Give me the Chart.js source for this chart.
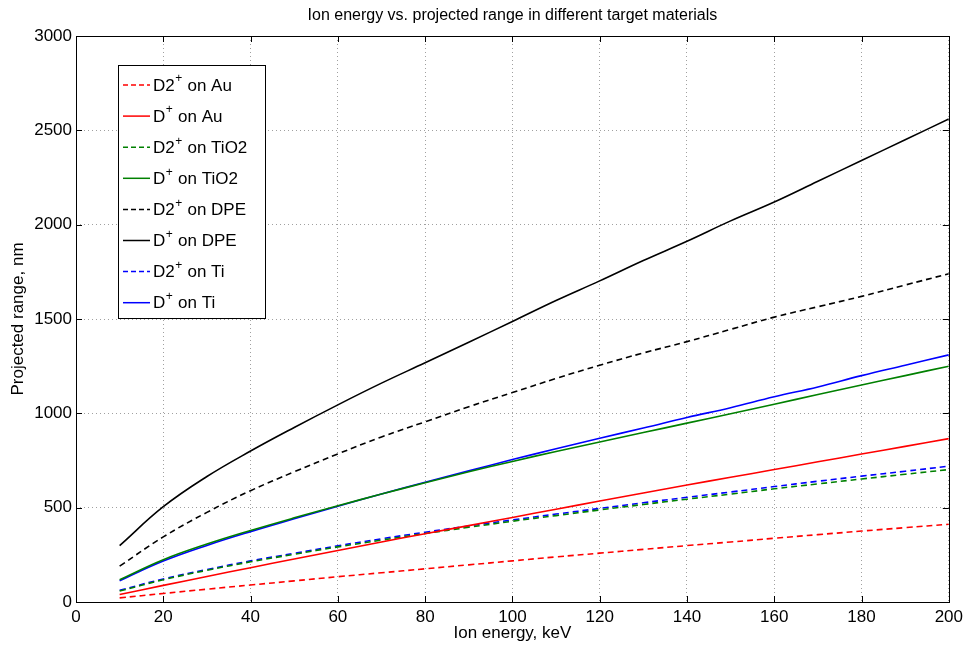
<!DOCTYPE html>
<html>
<head>
<meta charset="utf-8">
<script src="https://cdn.jsdelivr.net/npm/chart.js@4/dist/chart.umd.min.js"></script>
<style>
  html, body { margin: 0; padding: 0; background: #fff; }
  #wrap { width: 968px; height: 648px; }
</style>
</head>
<body>
<div id="wrap"><canvas id="rangeChart" width="968" height="648"></canvas></div>
<script>
// ion energies, keV
const energies = [10, 20, 30, 40, 50, 60, 70, 80, 90, 100, 110, 120, 130, 140, 150, 160, 170, 180, 190, 200];

// projected range, nm
const d2Au   = [22, 45, 68, 90, 112, 134, 155, 176, 197, 218, 239, 259, 279, 299, 318, 338, 357, 376, 394, 412];
const dAu    = [40, 88, 135, 182, 228, 273, 318, 362, 405, 448, 492, 535, 578, 620, 661, 702, 743, 784, 825, 866];
const d2TiO2 = [58, 118, 168, 213, 253, 292, 328, 363, 396, 428, 458, 488, 517, 545, 572, 600, 626, 652, 677, 702];
const dTiO2  = [118, 224, 307, 379, 446, 510, 572, 632, 690, 745, 798, 848, 898, 948, 998, 1048, 1100, 1150, 1200, 1250];
const d2DPE  = [190, 345, 475, 590, 690, 785, 875, 955, 1035, 1110, 1185, 1255, 1320, 1380, 1445, 1510, 1565, 1620, 1680, 1740];
const dDPE   = [299, 505, 665, 800, 925, 1045, 1160, 1268, 1377, 1487, 1598, 1702, 1810, 1912, 2020, 2120, 2230, 2340, 2450, 2560];
const d2Ti   = [62, 122, 172, 218, 258, 298, 335, 370, 403, 435, 466, 496, 526, 555, 583, 612, 640, 667, 693, 720];
const dTi    = [113, 217, 300, 373, 441, 508, 572, 635, 695, 755, 812, 868, 922, 978, 1030, 1088, 1140, 1200, 1255, 1310];

const xTicks = [0, 20, 40, 60, 80, 100, 120, 140, 160, 180, 200];
const yTicks = [0, 500, 1000, 1500, 2000, 2500, 3000];

const seriesList = [
    { ion: 'D2', target: 'Au',   values: d2Au,   color: '#ff0000', dashed: true },
    { ion: 'D',  target: 'Au',   values: dAu,    color: '#ff0000', dashed: false },
    { ion: 'D2', target: 'TiO2', values: d2TiO2, color: '#008000', dashed: true },
    { ion: 'D',  target: 'TiO2', values: dTiO2,  color: '#008000', dashed: false },
    { ion: 'D2', target: 'DPE',  values: d2DPE,  color: '#000000', dashed: true },
    { ion: 'D',  target: 'DPE',  values: dDPE,   color: '#000000', dashed: false },
    { ion: 'D2', target: 'Ti',   values: d2Ti,   color: '#0000ff', dashed: true },
    { ion: 'D',  target: 'Ti',   values: dTi,    color: '#0000ff', dashed: false }
];

const FONT = '"Liberation Sans", Arial, Helvetica, sans-serif';

// box, inward ticks, title and legend (superscript "+")
const framePlugin = {
    id: 'frame',
    afterDraw(chart) {
        const ctx = chart.ctx;
        const area = chart.chartArea;
        const xs = chart.scales.x;
        const ys = chart.scales.y;
        ctx.save();
        ctx.strokeStyle = '#000';
        ctx.lineWidth = 1;
        const tl = 6;
        ctx.beginPath();
        xTicks.forEach(v => {
            const px = Math.round(xs.getPixelForValue(v)) + 0.5;
            ctx.moveTo(px, area.bottom); ctx.lineTo(px, area.bottom - tl);
            ctx.moveTo(px, area.top); ctx.lineTo(px, area.top + tl);
        });
        yTicks.forEach(v => {
            const py = Math.round(ys.getPixelForValue(v)) + 0.5;
            ctx.moveTo(area.left, py); ctx.lineTo(area.left + tl, py);
            ctx.moveTo(area.right, py); ctx.lineTo(area.right - tl, py);
        });
        ctx.stroke();
        ctx.strokeRect(Math.round(area.left) + 0.5, Math.round(area.top) + 0.5,
            Math.round(area.right - area.left), Math.round(area.bottom - area.top));

        // title
        ctx.fillStyle = '#000';
        ctx.font = '16px ' + FONT;
        ctx.textAlign = 'center';
        ctx.textBaseline = 'middle';
        ctx.fillText('Ion energy vs. projected range in different target materials', (area.left + area.right) / 2, 16);

        // legend
        const lx = 118, ly = 65, lw = 147, lh = 253;
        ctx.fillStyle = '#fff';
        ctx.fillRect(lx, ly, lw, lh);
        ctx.strokeStyle = '#000';
        ctx.strokeRect(lx + 0.5, ly + 0.5, lw, lh);
        seriesList.forEach((s, i) => {
            const cy = 85 + i * 31.1;
            ctx.strokeStyle = s.color;
            ctx.lineWidth = 1.5;
            ctx.setLineDash(s.dashed ? [5, 3] : []);
            ctx.beginPath();
            ctx.moveTo(123, cy); ctx.lineTo(150, cy);
            ctx.stroke();
            ctx.setLineDash([]);
            ctx.fillStyle = '#000';
            ctx.textAlign = 'left';
            ctx.textBaseline = 'middle';
            let tx = 153;
            ctx.font = '17px ' + FONT;
            ctx.fillText(s.ion, tx, cy + 1);
            tx += ctx.measureText(s.ion).width;
            ctx.font = '12px ' + FONT;
            ctx.fillText('+', tx + 0.5, cy - 6);
            tx += ctx.measureText('+').width + 1;
            ctx.font = '17px ' + FONT;
            ctx.fillText(' on ' + s.target, tx, cy + 1);
        });
        ctx.restore();
    }
};

const datasets = seriesList.map(s => ({
    label: s.ion + '+ on ' + s.target,
    data: energies.map((e, i) => ({ x: e, y: s.values[i] })),
    borderColor: s.color,
    backgroundColor: s.color,
    borderWidth: 1.6,
    borderDash: s.dashed ? [6, 4] : [],
    pointRadius: 0,
    tension: 0.4,
    fill: false
}));

new Chart(document.getElementById('rangeChart'), {
    type: 'line',
    data: { datasets },
    options: {
        responsive: false,
        animation: false,
        layout: { padding: { top: 36, right: 19, left: 0, bottom: 0 } },
        plugins: {
            legend: { display: false },
            title: { display: false },
            tooltip: { enabled: false }
        },
        scales: {
            x: {
                type: 'linear',
                min: 0, max: 200,
                afterFit: s => { s.height = 46; },
                afterBuildTicks: s => { s.ticks = xTicks.map(v => ({ value: v })); },
                grid: { color: '#a0a0a0', drawTicks: false, lineWidth: 1 },
                border: { display: false, dash: [1, 3] },
                ticks: { color: '#000', font: { family: FONT, size: 17 }, padding: 5, maxRotation: 0,
                    callback: v => String(v) },
                title: { display: true, text: 'Ion energy, keV', color: '#000',
                    font: { family: FONT, size: 17 }, padding: { top: 0, bottom: 4 } }
            },
            y: {
                type: 'linear',
                min: 0, max: 3000,
                afterFit: s => { s.width = 76; },
                afterBuildTicks: s => { s.ticks = yTicks.map(v => ({ value: v })); },
                grid: { color: '#a0a0a0', drawTicks: false, lineWidth: 1 },
                border: { display: false, dash: [1, 3] },
                ticks: { color: '#000', font: { family: FONT, size: 17 }, padding: 4,
                    callback: v => String(v) },
                title: { display: true, text: 'Projected range, nm', color: '#000',
                    font: { family: FONT, size: 17 }, padding: { top: 8, bottom: 0 } }
            }
        }
    },
    plugins: [framePlugin]
});
</script>
</body>
</html>
